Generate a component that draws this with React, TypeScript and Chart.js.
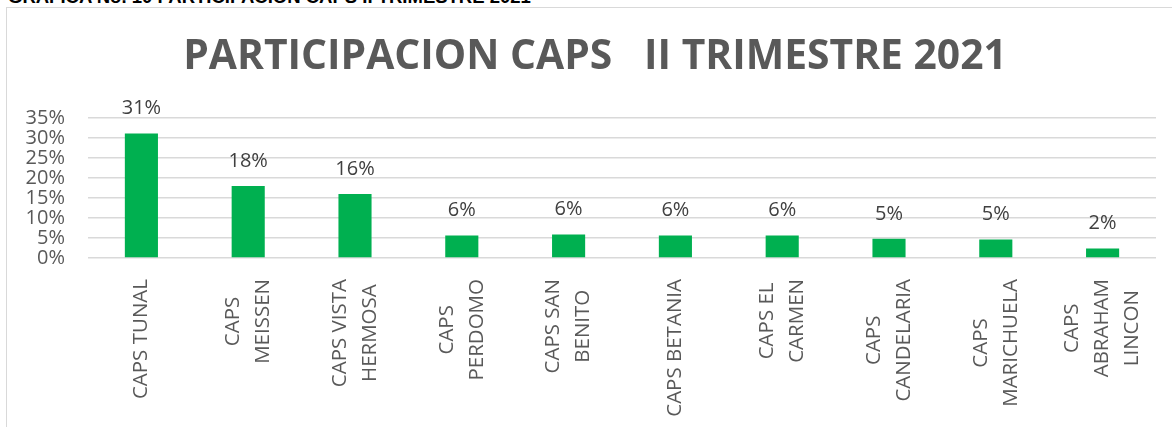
import React, { useEffect, useRef } from "react";
import { Chart, registerables } from "chart.js";

Chart.register(...registerables);

const categories: string[][] = [
  ["CAPS TUNAL"],
  ["CAPS", "MEISSEN"],
  ["CAPS VISTA", "HERMOSA"],
  ["CAPS", "PERDOMO"],
  ["CAPS SAN", "BENITO"],
  ["CAPS BETANIA"],
  ["CAPS EL", "CARMEN"],
  ["CAPS", "CANDELARIA"],
  ["CAPS", "MARICHUELA"],
  ["CAPS", "ABRAHAM", "LINCON"],
];
const participation: number[] = [31.1, 18.0, 16.0, 5.6, 5.9, 5.6, 5.6, 4.8, 4.6, 2.4];
const yTicks: number[] = [0, 5, 10, 15, 20, 25, 30, 35];
const chartTitle = "PARTICIPACION CAPS   II TRIMESTRE 2021";
const pageCaption = "GRAFICA No. 10 PARTICIPACION CAPS II TRIMESTRE 2021";

const FONT = "'Open Sans', 'DejaVu Sans', sans-serif";

const titlePlugin = {
  id: "boxTitle",
  afterDraw(chart: any) {
    const ctx = chart.ctx;
    ctx.save();
    ctx.font = `bold 40.8px ${FONT}`;
    ctx.fillStyle = "#595959";
    ctx.textAlign = "center";
    ctx.textBaseline = "middle";
    ctx.fillText(chartTitle, 595, 57);
    ctx.restore();
  },
};

const valueLabels = {
  id: "valueLabels",
  afterDatasetsDraw(chart: any) {
    const ctx = chart.ctx;
    const meta = chart.getDatasetMeta(0);
    ctx.save();
    ctx.font = `20px ${FONT}`;
    ctx.fillStyle = "#404040";
    ctx.textAlign = "center";
    ctx.textBaseline = "middle";
    meta.data.forEach((bar: any, i: number) => {
      const v = chart.data.datasets[0].data[i] as number;
      ctx.fillText(`${Math.round(v)}%`, bar.x, bar.y - 25);
    });
    ctx.restore();
  },
};

const categoryLabels = {
  id: "categoryLabels",
  afterDraw(chart: any) {
    const ctx = chart.ctx;
    const xScale = chart.scales.x;
    const lineH = 30;
    const top = xScale.top + 21;
    ctx.save();
    ctx.font = `20.5px ${FONT}`;
    ctx.fillStyle = "#595959";
    ctx.textAlign = "center";
    ctx.textBaseline = "middle";
    categories.forEach((lines, i) => {
      const cx = xScale.getPixelForValue(i);
      const maxW = Math.max(...lines.map((l) => ctx.measureText(l).width));
      const cy = top + maxW / 2;
      lines.forEach((line, j) => {
        const off = (j - (lines.length - 1) / 2) * lineH;
        ctx.save();
        ctx.translate(cx + off, cy);
        ctx.rotate(-Math.PI / 2);
        ctx.fillText(line, 0, 0);
        ctx.restore();
      });
    });
    ctx.restore();
  },
};

export default function App() {
  const canvasRef = useRef<HTMLCanvasElement | null>(null);

  useEffect(() => {
    if (!canvasRef.current) return;
    const chart = new Chart(canvasRef.current, {
      type: "bar",
      data: {
        labels: categories.map((c) => c.join(" ")),
        datasets: [
          {
            data: participation,
            backgroundColor: "#00B050",
            borderWidth: 0,
            barPercentage: 0.31,
            categoryPercentage: 1,
          },
        ],
      },
      options: {
        animation: false,
        responsive: false,
        maintainAspectRatio: false,
        layout: { padding: { left: 0, right: 16, top: 118, bottom: 0 } },
        plugins: {
          legend: { display: false },
          tooltip: { enabled: false },
          title: { display: false },
        },
        scales: {
          x: {
            grid: { display: false },
            border: { display: false },
            ticks: { display: false },
            afterFit: (s: any) => {
              s.height = 169;
            },
          },
          y: {
            min: 0,
            max: 35,
            afterFit: (s: any) => {
              s.width = 88;
            },
            afterBuildTicks: (s: any) => {
              s.ticks = yTicks.map((v) => ({ value: v }));
            },
            grid: { color: "#d9d9d9", lineWidth: 1.5, drawTicks: false },
            border: { display: false },
            ticks: {
              autoSkip: false,
              padding: 23,
              color: "#595959",
              font: { family: FONT, size: 20, lineHeight: 1 },
              callback: (v: any) => `${v}%`,
            },
          },
        },
      },
      plugins: [valueLabels, categoryLabels, titlePlugin],
    });
    return () => chart.destroy();
  }, []);

  return (
    <div
      style={{
        position: "fixed",
        left: 0,
        top: 0,
        width: 1172,
        height: 427,
        background: "#ffffff",
        overflow: "hidden",
      }}
    >
      <div
        style={{
          position: "absolute",
          left: 8,
          top: -12,
          fontFamily: "'Liberation Sans', Arial, sans-serif",
          fontWeight: "bold",
          fontSize: 18.5,
          lineHeight: "18.5px",
          color: "#000000",
          whiteSpace: "nowrap",
        }}
      >
        {pageCaption}
      </div>
      <canvas
        ref={canvasRef}
        width={1172}
        height={427}
        style={{ position: "absolute", left: 0, top: 0, width: 1172, height: 427 }}
      />
      <div
        style={{
          position: "absolute",
          left: 6,
          top: 7,
          width: 1200,
          height: 500,
          border: "1px solid #d9d9d9",
          pointerEvents: "none",
        }}
      />
    </div>
  );
}
